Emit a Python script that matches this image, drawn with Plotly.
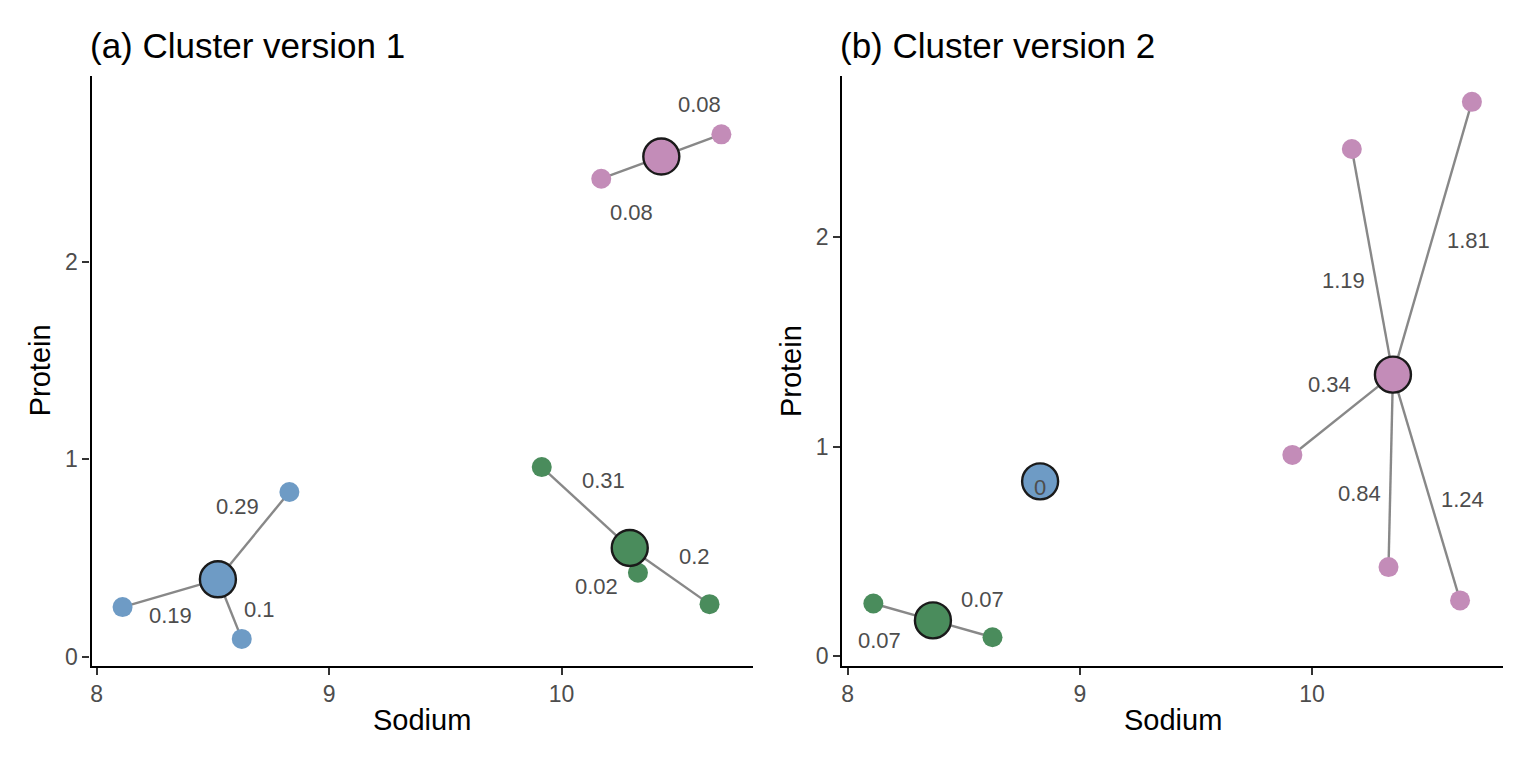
import plotly.graph_objects as go
import numpy as np

# ---- data ----
sodium = [8.111, 8.624, 8.829, 9.915, 10.329, 10.637, 10.171, 10.688]
protein = [0.251, 0.090, 0.834, 0.960, 0.425, 0.266, 2.420, 2.645]
cluster_v1 = ["blue", "blue", "blue", "green", "green", "green", "pink", "pink"]
cluster_v2 = ["green", "green", "blue", "pink", "pink", "pink", "pink", "pink"]
dist_v1 = ["0.19", "0.1", "0.29", "0.31", "0.02", "0.2", "0.08", "0.08"]
dist_v2 = ["0.07", "0.07", "0", "0.34", "0.84", "1.24", "1.19", "1.81"]
titles = ["(a) Cluster version 1", "(b) Cluster version 2"]
x_ticks = [8, 9, 10]
y_ticks = [0, 1, 2]

# ---- styling ----
FONT = "Liberation Sans, Arial, sans-serif"
palette = {"blue": "#6E9BC5", "green": "#4A8C5C", "pink": "#C38CB8"}
order = ["blue", "green", "pink"]
# pixel nudges of distance labels from segment midpoints (repel-like placement)
shift_v1 = [(0, -22), (30, 0), (-16, 29), (18, 27), (-37, -26), (25, 20), (0, -45), (8, 41)]
shift_v2 = [(-24, -29), (20, 29), (0, -6), (-13, 30), (-31, -23), (36, -12), (-29, -19), (36, -2)]

W, H, OFF = 1536, 768, 8  # page body margin offset


def px(xp):
    return (xp - OFF) / W


def py(yp):
    return 1 - (yp - OFF) / H


x_dom = [[px(90.7), px(752)], [px(842), px(1503)]]
y_dom = [py(669), py(76)]
x_rng = [7.978, 10.822]
y_rngs = [[-0.045, 2.942], [-0.045, 2.77]]

fig = go.Figure()
annotations = []

panels = [(cluster_v1, dist_v1, shift_v1), (cluster_v2, dist_v2, shift_v2)]
for p, (clus, dists, shifts) in enumerate(panels):
    xa = "x" if p == 0 else "x2"
    ya = "y" if p == 0 else "y2"
    sx = np.array(sodium)
    sy = np.array(protein)
    cl = np.array(clus)
    cent = {}
    for c in order:
        m = cl == c
        if m.any():
            cent[c] = (sx[m].mean(), sy[m].mean())
    # segments
    lx, ly = [], []
    for i in range(len(sx)):
        cx, cy = cent[clus[i]]
        lx += [sx[i], cx, None]
        ly += [sy[i], cy, None]
    fig.add_trace(go.Scatter(x=lx, y=ly, mode="lines", xaxis=xa, yaxis=ya,
                             line=dict(color="#888888", width=2.4), hoverinfo="skip",
                             showlegend=False))
    # points
    for c in order:
        m = cl == c
        if not m.any():
            continue
        fig.add_trace(go.Scatter(x=sx[m], y=sy[m], mode="markers", xaxis=xa, yaxis=ya,
                                 marker=dict(size=20, color=palette[c], line=dict(width=0)),
                                 showlegend=False))
    # centroids
    for c in order:
        if c not in cent:
            continue
        fig.add_trace(go.Scatter(x=[cent[c][0]], y=[cent[c][1]], mode="markers",
                                 xaxis=xa, yaxis=ya,
                                 marker=dict(size=36, color=palette[c],
                                             line=dict(width=2.4, color="#1A1A1A")),
                                 showlegend=False))
    # distance labels
    for i in range(len(sx)):
        cx, cy = cent[clus[i]]
        annotations.append(dict(x=(sx[i] + cx) / 2, y=(sy[i] + cy) / 2, xref=xa, yref=ya,
                                text=dists[i], showarrow=False,
                                xshift=shifts[i][0], yshift=shifts[i][1],
                                font=dict(family=FONT, size=22, color="#4D4D4D")))
    # panel title
    annotations.append(dict(x=x_dom[p][0] - 4 / W, y=py(46), xref="paper", yref="paper",
                            text=titles[p], showarrow=False, xanchor="left", yanchor="middle",
                            font=dict(family=FONT, size=35, color="black")))
    # axis titles
    annotations.append(dict(x=(x_dom[p][0] + x_dom[p][1]) / 2, y=py(724),
                            xref="paper", yref="paper", text="Sodium", showarrow=False,
                            xanchor="center", yanchor="middle",
                            font=dict(family=FONT, size=29, color="black")))
    annotations.append(dict(x=x_dom[p][0] - 52 / W, y=(y_dom[0] + y_dom[1]) / 2,
                            xref="paper", yref="paper", text="Protein", showarrow=False,
                            textangle=-90, xanchor="center", yanchor="middle",
                            font=dict(family=FONT, size=29, color="black")))

axis_common = dict(showline=True, linewidth=2.4, linecolor="black", ticks="outside",
                   ticklen=7, tickwidth=2.2, tickcolor="#333333", showgrid=False,
                   zeroline=False, tickfont=dict(family=FONT, size=23, color="#4D4D4D"))

fig.update_layout(
    width=W, height=H,
    margin=dict(l=0, r=0, t=0, b=0),
    plot_bgcolor="white", paper_bgcolor="white",
    showlegend=False,
    annotations=annotations,
    xaxis=dict(domain=x_dom[0], range=x_rng, tickvals=x_ticks, anchor="y", **axis_common),
    yaxis=dict(domain=y_dom, range=y_rngs[0], tickvals=y_ticks, anchor="x", **axis_common),
    xaxis2=dict(domain=x_dom[1], range=x_rng, tickvals=x_ticks, anchor="y2", **axis_common),
    yaxis2=dict(domain=y_dom, range=y_rngs[1], tickvals=y_ticks, anchor="x2", **axis_common),
)

fig.write_html("out.html")
